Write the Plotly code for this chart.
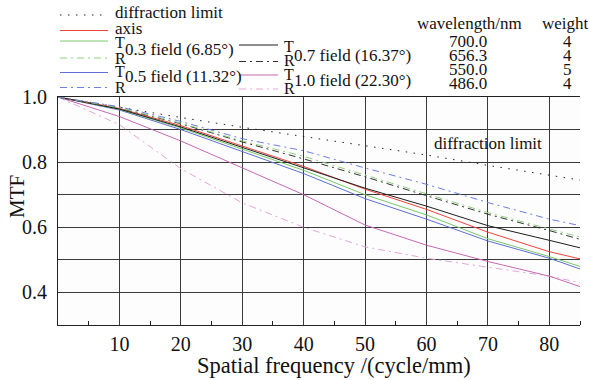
import plotly.graph_objects as go

# ---------------- data ----------------
freq = [0, 10, 20, 30, 40, 50, 60, 70, 80, 85]

diffraction_limit = [1.0, 0.968, 0.937, 0.907, 0.878, 0.850, 0.822, 0.790, 0.760, 0.745]
axis_mtf = [1.0, 0.965, 0.912, 0.850, 0.787, 0.717, 0.655, 0.585, 0.525, 0.503]
f03_T = [1.0, 0.962, 0.905, 0.840, 0.775, 0.700, 0.638, 0.565, 0.510, 0.480]
f03_R = [1.0, 0.967, 0.920, 0.865, 0.818, 0.760, 0.702, 0.645, 0.595, 0.570]
f05_T = [1.0, 0.960, 0.900, 0.832, 0.765, 0.688, 0.625, 0.558, 0.505, 0.472]
f05_R = [1.0, 0.970, 0.925, 0.872, 0.835, 0.782, 0.732, 0.676, 0.625, 0.605]
f07_T = [1.0, 0.963, 0.908, 0.845, 0.782, 0.720, 0.665, 0.605, 0.560, 0.537]
f07_R = [1.0, 0.966, 0.918, 0.862, 0.810, 0.755, 0.697, 0.640, 0.590, 0.563]
f10_T = [1.0, 0.940, 0.865, 0.782, 0.700, 0.607, 0.545, 0.495, 0.450, 0.418]
f10_R = [1.0, 0.915, 0.780, 0.675, 0.600, 0.540, 0.505, 0.478, 0.450, 0.430]

x_ticks = [10, 20, 30, 40, 50, 60, 70, 80]
wavelengths = ["700.0", "656.3", "550.0", "486.0"]
weights = ["4", "4", "5", "4"]

FONT = "Liberation Serif"
DASHDOT = "7px,4px,2px,4px"
DOT = "1.5px,6.5px"
LEG = 17

series = [
    (diffraction_limit, "#222222", DOT),
    (f10_R, "#e4a6d6", DASHDOT),
    (f10_T, "#c469b4", "solid"),
    (f05_T, "#5f6fd6", "solid"),
    (f03_T, "#78c86a", "solid"),
    (axis_mtf, "#f2453a", "solid"),
    (f07_T, "#1e1e1e", "solid"),
    (f07_R, "#333333", DASHDOT),
    (f03_R, "#8fd07c", DASHDOT),
    (f05_R, "#6f7fe2", DASHDOT),
]

fig = go.Figure()
for ys, col, dash in series:
    fig.add_trace(go.Scatter(x=freq, y=ys, mode="lines",
                             line=dict(color=col, width=1, dash=dash),
                             showlegend=False, hoverinfo="skip"))

L, R, T, B = 58, 580, 97, 325
W, H = 589, 380


def P(px, py):
    return (px - L) / (R - L), (B - py) / (B - T)


annotations = []
shapes = []


def text(px, py, s, size=LEG, xanchor="left"):
    x, y = P(px, py)
    annotations.append(dict(x=x, y=y, xref="paper", yref="paper", text=s,
                            showarrow=False, xanchor=xanchor, yanchor="middle",
                            font=dict(family=FONT, size=size, color="#111")))


def seg(x0, x1, py, col, dash):
    a, b = P(x0, py)
    c, _ = P(x1, py)
    shapes.append(dict(type="line", xref="paper", yref="paper", x0=a, x1=c,
                       y0=b, y1=b, line=dict(color=col, width=1, dash=dash)))


# legend column 1
seg(60, 108, 15, "#222222", DOT)
text(113, 13, "diffraction limit")
seg(60, 108, 30.5, "#f2453a", "solid")
text(113, 28, "axis")
seg(60, 108, 41, "#78c86a", "solid")
seg(60, 108, 58, "#8fd07c", DASHDOT)
text(113, 42, "T", size=16)
text(113, 58, "R", size=16)
text(123, 50, "0.3 field (6.85°)")
seg(60, 108, 72.5, "#5f6fd6", "solid")
seg(60, 108, 87.5, "#6f7fe2", DASHDOT)
text(113, 71, "T", size=16)
text(113, 87, "R", size=16)
text(123, 77, "0.5 field (11.32°)")
# legend column 2
seg(239, 278, 45, "#1e1e1e", "solid")
seg(239, 278, 61.5, "#333333", DASHDOT)
text(282, 46, "T", size=16)
text(282, 61, "R", size=16)
text(292, 55, "0.7 field (16.37°)")
seg(239, 278, 75, "#c469b4", "solid")
seg(239, 278, 89, "#e4a6d6", DASHDOT)
text(282, 75, "T", size=16)
text(282, 89, "R", size=16)
text(292, 80, "1.0 field (22.30°)")

# wavelength table
text(469, 23, "wavelength/nm", xanchor="center")
text(565, 23, "weight", xanchor="center")
for i, (wl, wt) in enumerate(zip(wavelengths, weights)):
    yy = 41.5 + i * 14.1
    text(468, yy, wl, xanchor="center")
    text(567, yy, wt, xanchor="center")

# in-plot label
annotations.append(dict(x=70, y=0.858, xref="x", yref="y", text="diffraction limit",
                        showarrow=False, xanchor="center", yanchor="middle",
                        font=dict(family=FONT, size=LEG, color="#111")))

# axis titles
mx, my = P(17, 197)
annotations.append(dict(x=mx, y=my, xref="paper", yref="paper", text="MTF",
                        textangle=-90, showarrow=False, xanchor="center",
                        yanchor="middle", font=dict(family=FONT, size=21, color="#111")))
tx, ty = P(334, 365)
annotations.append(dict(x=tx, y=ty, xref="paper", yref="paper",
                        text="Spatial frequency /(cycle/mm)", showarrow=False,
                        xanchor="center", yanchor="middle",
                        font=dict(family=FONT, size=22.5, color="#111")))

fig.update_layout(
    width=W, height=H,
    margin=dict(l=L, r=W - R, t=T, b=H - B),
    paper_bgcolor="white", plot_bgcolor="#fdfdfd",
    font=dict(family=FONT, color="#111"),
    annotations=annotations, shapes=shapes,
    showlegend=False,
)
fig.update_xaxes(
    range=[0, 85], tickvals=x_ticks, ticktext=[str(v) for v in x_ticks],
    showgrid=True, gridcolor="#3a3a3a", gridwidth=1,
    showline=True, linecolor="#222", linewidth=1, mirror=True,
    ticks="", tickfont=dict(family=FONT, size=20, color="#111"),
    ticklabelstandoff=1,
    minor=dict(tickvals=[5, 15, 25, 35, 45, 55, 65, 75, 85], ticks="inside",
               ticklen=4, tickcolor="#222", showgrid=False),
    zeroline=False, fixedrange=True,
)
fig.update_yaxes(
    range=[0.3, 1.0], dtick=0.2, tick0=0.4, tickformat=".1f",
    showgrid=True, gridcolor="#3a3a3a", gridwidth=1,
    showline=True, linecolor="#222", linewidth=1,
    ticks="", tickfont=dict(family=FONT, size=20, color="#111"),
    ticklabelstandoff=6,
    minor=dict(dtick=0.1, showgrid=True, gridcolor="#3a3a3a", gridwidth=1),
    zeroline=False, fixedrange=True,
)

fig.write_html("out.html", config={"displayModeBar": False},
               post_script="document.body.style.margin='0';document.body.style.overflow='hidden';")
